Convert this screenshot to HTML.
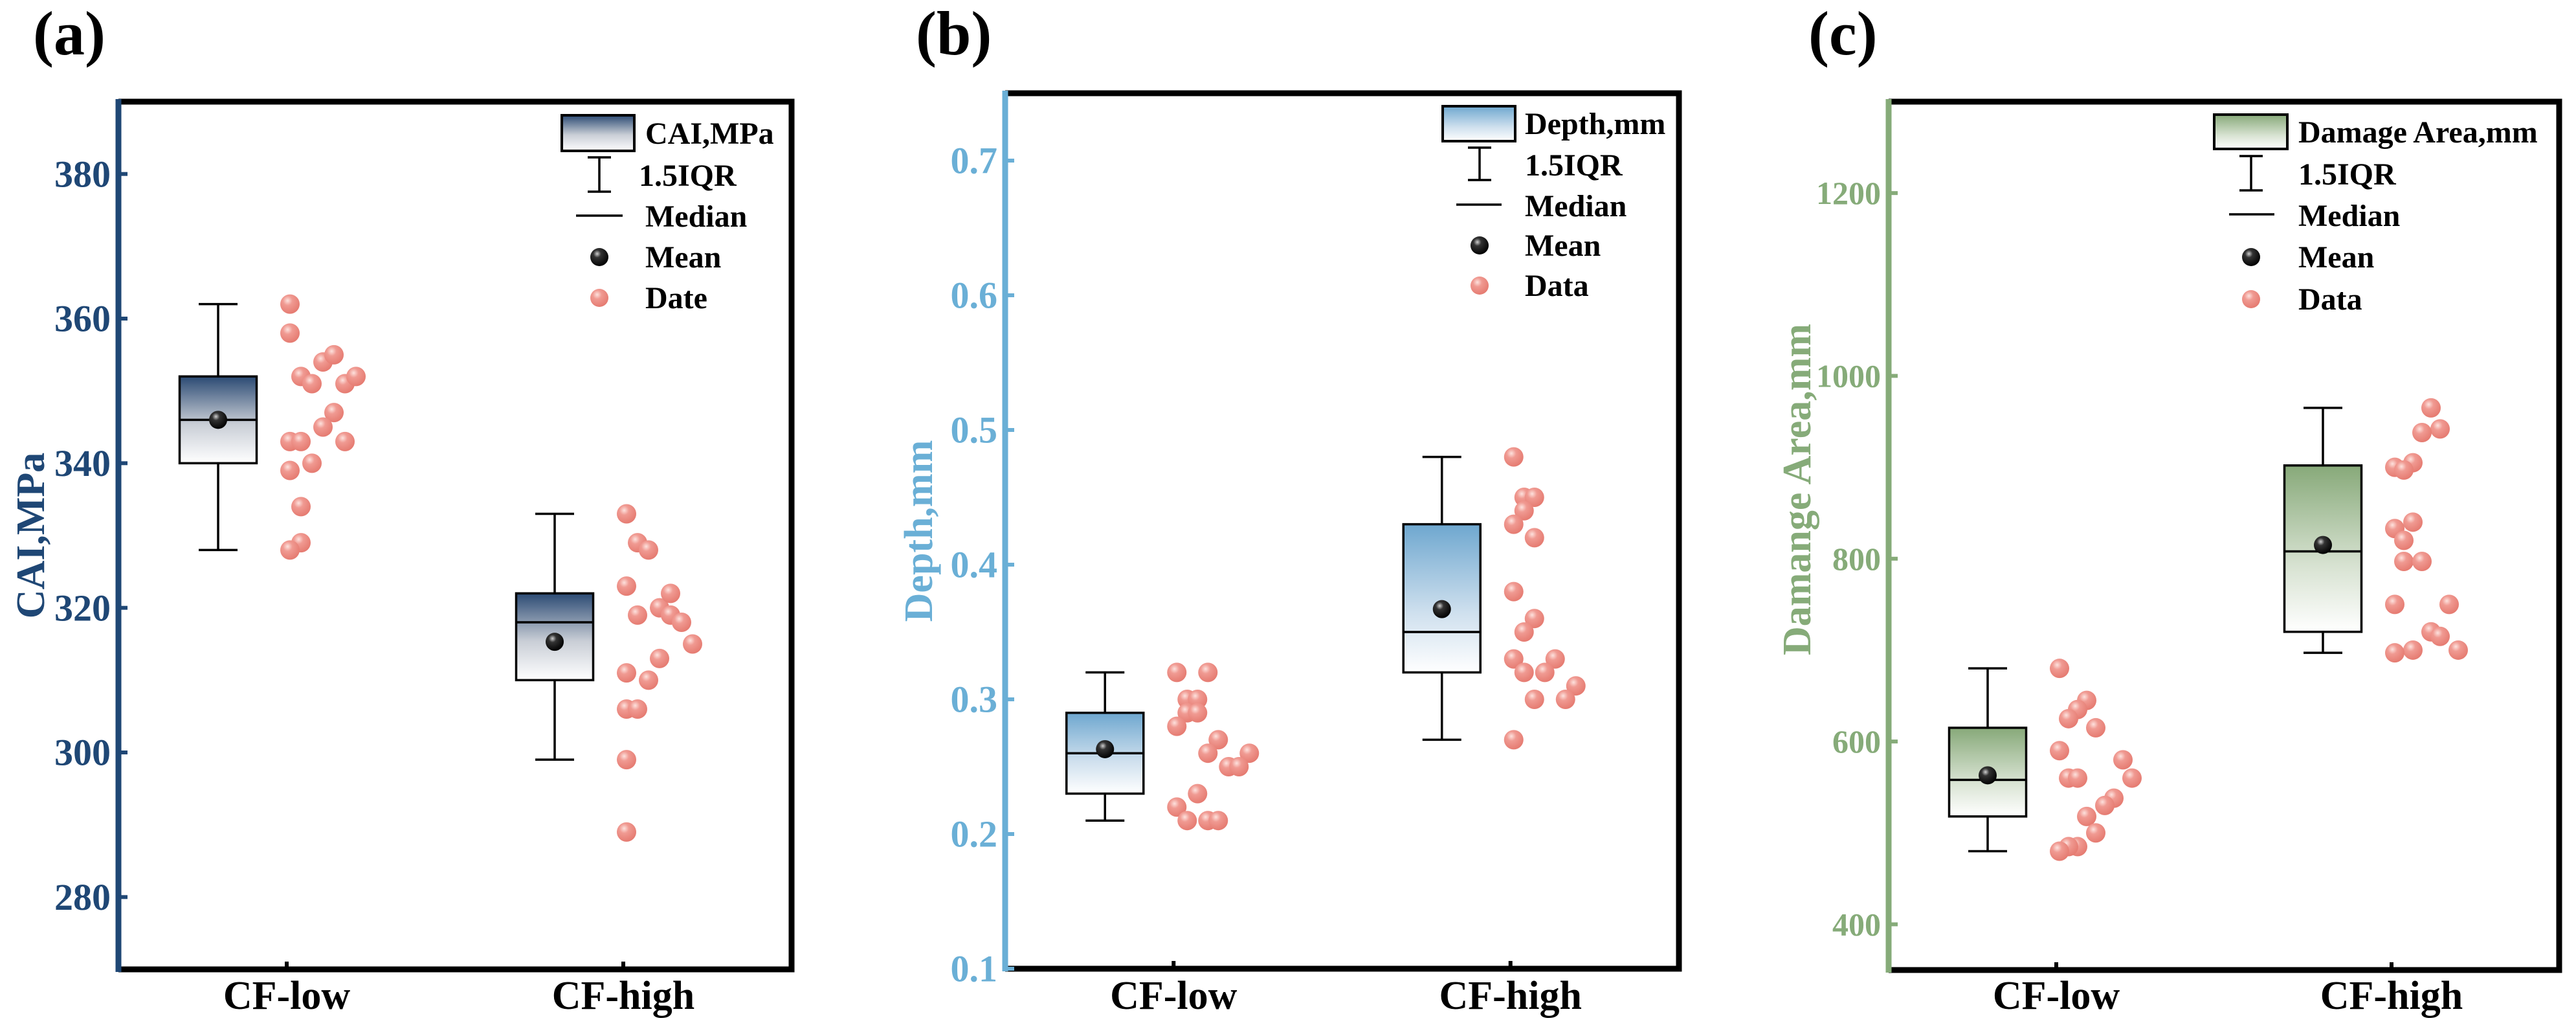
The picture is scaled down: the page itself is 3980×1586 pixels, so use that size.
<!DOCTYPE html>
<html><head><meta charset="utf-8"><style>
html,body{margin:0;padding:0;background:#fff;}
svg{display:block;font-family:"Liberation Serif","Times New Roman",serif;font-weight:bold;}
</style></head><body>
<svg id="chart" xmlns="http://www.w3.org/2000/svg" width="3980" height="1586" viewBox="0 0 3980 1586">
<defs>
<radialGradient id="pinkBall" cx="0.38" cy="0.32" r="0.7"><stop offset="0" stop-color="#fde2de"/><stop offset="0.35" stop-color="#f09a92"/><stop offset="1" stop-color="#e57a70"/></radialGradient>
<radialGradient id="blackBall" cx="0.38" cy="0.32" r="0.7"><stop offset="0" stop-color="#d0d0d0"/><stop offset="0.3" stop-color="#333"/><stop offset="1" stop-color="#000"/></radialGradient>
<linearGradient id="gradA" x1="0" y1="0" x2="0" y2="1"><stop offset="0" stop-color="#2b4a73"/><stop offset="0.55" stop-color="#c9ced6"/><stop offset="1" stop-color="#ffffff"/></linearGradient>
<linearGradient id="gradB" x1="0" y1="0" x2="0" y2="1"><stop offset="0" stop-color="#6ea7cf"/><stop offset="0.6" stop-color="#cfe0ee"/><stop offset="1" stop-color="#ffffff"/></linearGradient>
<linearGradient id="gradC" x1="0" y1="0" x2="0" y2="1"><stop offset="0" stop-color="#87a979"/><stop offset="0.6" stop-color="#d7e2d1"/><stop offset="1" stop-color="#ffffff"/></linearGradient>
</defs>
</svg>
<script>
// ---------- data ----------
const categories = ["CF-low", "CF-high"];

const aTicks = [280, 300, 320, 340, 360, 380];
const aQ1 = [340, 310];
const aQ3 = [352, 322];
const aMedian = [346, 318];
const aMean = [346, 315.3];
const aWhiskerLow = [328, 299];
const aWhiskerHigh = [362, 333];
const aLowValues = [362, 358, 352, 351, 354, 355, 351, 352, 347, 345, 343, 343, 343, 340, 339, 334, 329, 328];
const aLowJitter = [0, 0, 1, 2, 3, 4, 5, 6, 4, 3, 0, 1, 5, 2, 0, 1, 1, 0];
const aHighValues = [333, 329, 328, 323, 319, 320, 322, 319, 318, 315, 313, 311, 310, 306, 306, 299, 289];
const aHighJitter = [0, 1, 2, 0, 1, 3, 4, 4, 5, 6, 3, 0, 2, 0, 1, 0, 0];

const bTicks = [0.1, 0.2, 0.3, 0.4, 0.5, 0.6, 0.7];
const bQ1 = [0.23, 0.32];
const bQ3 = [0.29, 0.43];
const bMedian = [0.26, 0.35];
const bMean = [0.263, 0.367];
const bWhiskerLow = [0.21, 0.27];
const bWhiskerHigh = [0.32, 0.48];
const bLowValues = [0.32, 0.32, 0.30, 0.30, 0.29, 0.29, 0.28, 0.27, 0.26, 0.26, 0.25, 0.25, 0.23, 0.22, 0.21, 0.21, 0.21];
const bLowJitter = [0, 3, 1, 2, 1, 2, 0, 4, 3, 7, 5, 6, 2, 0, 1, 3, 4];
const bHighValues = [0.48, 0.45, 0.45, 0.44, 0.43, 0.42, 0.38, 0.36, 0.35, 0.33, 0.33, 0.32, 0.32, 0.31, 0.30, 0.30, 0.27];
const bHighJitter = [0, 1, 2, 1, 0, 2, 0, 2, 1, 0, 4, 1, 3, 6, 2, 5, 0];

const cTicks = [400, 600, 800, 1000, 1200];
const cQ1 = [518, 720];
const cQ3 = [615, 902];
const cMedian = [558, 808];
const cMean = [563, 815];
const cWhiskerLow = [480, 697];
const cWhiskerHigh = [680, 965];
const cLowValues = [680, 645, 635, 625, 615, 590, 580, 560, 560, 560, 538, 530, 518, 500, 485, 485, 480];
const cLowJitter = [0, 3, 2, 1, 4, 0, 7, 1, 2, 8, 6, 5, 3, 4, 2, 1, 0];
const cHighValues = [965, 942, 938, 905, 900, 897, 840, 833, 820, 797, 797, 750, 750, 720, 715, 700, 700, 697];
const cHighJitter = [4, 5, 3, 2, 0, 1, 2, 0, 1, 1, 3, 0, 6, 4, 5, 7, 2, 0];

// ---------- drawing ----------
const NS = "http://www.w3.org/2000/svg";
const svg = document.getElementById("chart");
function mk(tag, attrs, parent) {
  const e = document.createElementNS(NS, tag);
  for (const k in attrs) e.setAttribute(k, attrs[k]);
  (parent || svg).appendChild(e);
  return e;
}

const panels = [
  { id: "a", label: "(a)", labelX: 51, color: "#1f4775", grad: "url(#gradA)",
    left: 183, right: 1223, top: 157, bottom: 1497, yMin: 270, yMax: 390, dec: 0, step: 17, tickFont: 58,
    title: "CAI,MPa", titleX: 47, titleY: 827,
    ticks: aTicks, q1: aQ1, q3: aQ3, med: aMedian, mean: aMean, wlo: aWhiskerLow, whi: aWhiskerHigh,
    pts: [[aLowValues, aLowJitter], [aHighValues, aHighJitter]],
    leg: { sx: 868, sy: 178, sw: 112, sh: 55, tx: 997, iqrX: 987, base: [222, 287, 350, 413, 476], icx: 926, wy1: 243, wy2: 296, my: 333, mx1: 890, mx2: 962, names: ["CAI,MPa", "1.5IQR", "Median", "Mean", "Date"] } },
  { id: "b", label: "(b)", labelX: 1415, color: "#6aafd6", grad: "url(#gradB)",
    left: 1553, right: 2594, top: 144, bottom: 1496, yMin: 0.1, yMax: 0.75, dec: 1, step: 16, tickFont: 58,
    title: "Depth,mm", titleX: 1419, titleY: 820,
    ticks: bTicks, q1: bQ1, q3: bQ3, med: bMedian, mean: bMean, wlo: bWhiskerLow, whi: bWhiskerHigh,
    pts: [[bLowValues, bLowJitter], [bHighValues, bHighJitter]],
    leg: { sx: 2229, sy: 164, sw: 112, sh: 54, tx: 2356, iqrX: 2356, base: [207, 271, 334, 395, 457], icx: 2286, wy1: 228, wy2: 278, my: 316, mx1: 2250, mx2: 2320, names: ["Depth,mm", "1.5IQR", "Median", "Mean", "Data"] } },
  { id: "c", label: "(c)", labelX: 2794, color: "#86ab79", grad: "url(#gradC)",
    left: 2918, right: 3954, top: 157, bottom: 1498, yMin: 350, yMax: 1300, dec: 0, step: 14, tickFont: 50,
    title: "Damange Area,mm", titleX: 2776, titleY: 756,
    ticks: cTicks, q1: cQ1, q3: cQ3, med: cMedian, mean: cMean, wlo: cWhiskerLow, whi: cWhiskerHigh,
    pts: [[cLowValues, cLowJitter], [cHighValues, cHighJitter]],
    leg: { sx: 3421, sy: 177, sw: 113, sh: 53, tx: 3551, iqrX: 3551, base: [220, 285, 349, 413, 478], icx: 3478, wy1: 241, wy2: 294, my: 331, mx1: 3444, mx2: 3514, names: ["Damage Area,mm", "1.5IQR", "Median", "Mean", "Data"] } }
];

panels.forEach(p => {
  const g = mk("g", {});
  
  
  const yS = v => p.bottom - (v - p.yMin) / (p.yMax - p.yMin) * (p.bottom - p.top);
  const xS = i => p.left + (p.right - p.left) * (0.25 + 0.5 * i);

  const lab = mk("text", { x: p.labelX, y: 84, "font-size": 96, fill: "#000" }, g);
  lab.textContent = p.label;
  
  

  const frame = mk("path", { d: `M${p.left},${p.top} H${p.right} V${p.bottom} H${p.left}`, fill: "none", stroke: "#000", "stroke-width": 9 }, g);
  
  
  const yAxis = mk("line", { x1: p.left, y1: p.top - 4, x2: p.left, y2: p.bottom + 4, stroke: p.color, "stroke-width": 9 }, g);
  
  

  p.ticks.forEach(t => {
    const y = yS(t);
    const tk = mk("line", { x1: p.left, y1: y, x2: p.left + 14, y2: y, stroke: p.color, "stroke-width": 6 }, g);
    
    
    const tl = mk("text", { x: p.left - 12, y: y + p.tickFont * 0.34, "font-size": p.tickFont, fill: p.color, "text-anchor": "end" }, g);
    tl.textContent = t.toFixed(p.dec);
    
    
  });

  const yt = mk("text", { x: 0, y: 0, "font-size": 62, fill: p.color, "text-anchor": "middle", transform: `translate(${p.titleX + 21},${p.titleY}) rotate(-90)` }, g);
  yt.textContent = p.title;
  
  

  categories.forEach((c, i) => {
    const cx = xS(i);
    const xt = mk("line", { x1: cx, y1: p.bottom, x2: cx, y2: p.bottom - 12, stroke: "#000", "stroke-width": 6 }, g);
    
    
    const cl = mk("text", { x: cx, y: 1558, "font-size": 62, fill: "#000", "text-anchor": "middle" }, g);
    cl.textContent = c;
    
    

    const bw = 119;
    const boxCenter = cx - 106;
    const wl = mk("line", { x1: boxCenter, y1: yS(p.whi[i]), x2: boxCenter, y2: yS(p.wlo[i]), stroke: "#000", "stroke-width": 3.5 }, g);
    
    
    [p.whi[i], p.wlo[i]].forEach(v => {
      const cap = mk("line", { x1: boxCenter - 30, y1: yS(v), x2: boxCenter + 30, y2: yS(v), stroke: "#000", "stroke-width": 3.5 }, g);
      
      
    });
    const box = mk("rect", { x: boxCenter - bw / 2, y: yS(p.q3[i]), width: bw, height: yS(p.q1[i]) - yS(p.q3[i]), fill: p.grad, stroke: "#000", "stroke-width": 3.5 }, g);
    
    
    const md = mk("line", { x1: boxCenter - bw / 2, y1: yS(p.med[i]), x2: boxCenter + bw / 2, y2: yS(p.med[i]), stroke: "#000", "stroke-width": 3.5 }, g);
    
    
    const mn = mk("circle", { cx: boxCenter, cy: yS(p.mean[i]), r: 14, fill: "url(#blackBall)" }, g);
    
    

    const vals = p.pts[i][0], jit = p.pts[i][1];
    vals.forEach((v, k) => {
      const dot = mk("circle", { cx: cx + 5 + jit[k] * p.step, cy: yS(v), r: 15, fill: "url(#pinkBall)" }, g);
      
      
    });
  });

  const L = p.leg;
  const lg = mk("g", {}, g);
  
  
  const sw = mk("rect", { x: L.sx, y: L.sy, width: L.sw, height: L.sh, fill: p.grad, stroke: "#000", "stroke-width": 4 }, lg);
  
  
  const wi = mk("path", { d: `M${L.icx - 18},${L.wy1} H${L.icx + 18} M${L.icx},${L.wy1} V${L.wy2} M${L.icx - 18},${L.wy2} H${L.icx + 18}`, stroke: "#000", "stroke-width": 3.5, fill: "none" }, lg);
  
  
  const ml = mk("line", { x1: L.mx1, y1: L.my, x2: L.mx2, y2: L.my, stroke: "#000", "stroke-width": 3.5 }, lg);
  
  
  const mi = mk("circle", { cx: L.icx, cy: L.base[3] - 16, r: 14, fill: "url(#blackBall)" }, lg);
  
  
  const di = mk("circle", { cx: L.icx, cy: L.base[4] - 16, r: 14, fill: "url(#pinkBall)" }, lg);
  
  
  L.names.forEach((n, k) => {
    const t = mk("text", { x: k === 1 ? L.iqrX : L.tx, y: L.base[k], "font-size": 48, fill: "#000" }, lg);
    t.textContent = n;
    
    
  });
});
</script>
</body></html>
